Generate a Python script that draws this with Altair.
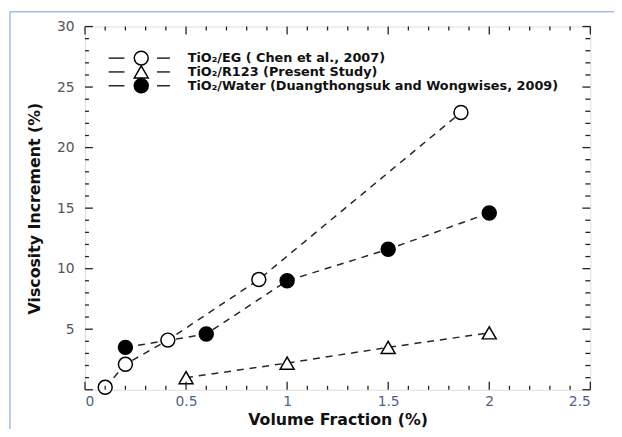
import altair as alt
import pandas as pd

# ---- data ----
series_names = [
    "TiO₂/EG ( Chen et al., 2007)",
    "TiO₂/R123 (Present Study)",
    "TiO₂/Water (Duangthongsuk and Wongwises, 2009)",
]
eg_x = [0.1, 0.2, 0.41, 0.86, 1.86]
eg_y = [0.2, 2.1, 4.1, 9.1, 22.9]
r123_x = [0.5, 1.0, 1.5, 2.0]
r123_y = [1.0, 2.2, 3.5, 4.7]
water_x = [0.2, 0.6, 1.0, 1.5, 2.0]
water_y = [3.5, 4.6, 9.0, 11.6, 14.6]

x_labels = [0, 0.5, 1, 1.5, 2, 2.5]
x_minor = [0.1, 0.2, 0.3, 0.4, 0.6, 0.7, 0.8, 0.9, 1.1, 1.2, 1.3, 1.4,
           1.6, 1.7, 1.8, 1.9, 2.1, 2.2, 2.3, 2.4]
y_labels = [5, 10, 15, 20, 25, 30]
y_major = [0, 5, 10, 15, 20, 25, 30]
y_minor = [1, 2, 3, 4, 6, 7, 8, 9, 11, 12, 13, 14, 16, 17, 18, 19,
           21, 22, 23, 24, 26, 27, 28, 29]

shape_range = ["circle", "triangle-up", "circle"]
fill_range = ["white", "white", "black"]

rows = []
for name, xs, ys in [(series_names[0], eg_x, eg_y),
                     (series_names[1], r123_x, r123_y),
                     (series_names[2], water_x, water_y)]:
    for a, b in zip(xs, ys):
        rows.append({"series": name, "x": a, "y": b})
df = pd.DataFrame(rows)

W, H = 512, 368
FONT = "DejaVu Sans"

xscale = alt.Scale(domain=[0, 2.5], nice=False)
yscale = alt.Scale(domain=[0, 30], nice=False)

X = alt.X("x:Q", scale=xscale,
          axis=alt.Axis(values=x_labels, format="~g", ticks=False, domain=False, grid=False,
                        labelFontSize=14, labelColor="#4f6386", labelFont=FONT, labelPadding=5,
                        title="Volume Fraction (%)", titleFontSize=16, titleFont=FONT,
                        titleFontWeight="bold", titleColor="#111", titlePadding=3))
Y = alt.Y("y:Q", scale=yscale,
          axis=alt.Axis(values=y_labels, ticks=False, domain=False, grid=False,
                        labelFontSize=14, labelColor="#555", labelFont=FONT, labelPadding=11,
                        title="Viscosity Increment (%)", titleFontSize=16, titleFont=FONT,
                        titleFontWeight="bold", titleColor="#111", titlePadding=14))

shape_enc = alt.Shape("series:N", scale=alt.Scale(domain=series_names, range=shape_range), legend=None)
fill_enc = alt.Fill("series:N", scale=alt.Scale(domain=series_names, range=fill_range), legend=None)

lines = alt.Chart(df).mark_line(strokeDash=[7, 6], strokeWidth=1.5, color="#262626").encode(
    x=X, y=Y, detail="series:N")
points = alt.Chart(df).mark_point(filled=True, size=200, stroke="black", strokeWidth=1.5,
                                  opacity=1).encode(x=X, y=Y, shape=shape_enc, fill=fill_enc)

one = pd.DataFrame({"a": [0]})
frame_left = alt.Chart(one).mark_rule(color="#9dbfe6", strokeWidth=1.5).encode(
    x=alt.value(-76), y=alt.value(-15), y2=alt.value(H + 60))
frame_top = alt.Chart(one).mark_rule(color="#9dbfe6", strokeWidth=1.5).encode(
    x=alt.value(-76), x2=alt.value(W + 40), y=alt.value(-15))


def xticks(vals, y0, y1):
    return alt.Chart(pd.DataFrame({"x": vals})).mark_rule(color="#222", strokeWidth=1.3).encode(
        x=alt.X("x:Q", scale=xscale), y=alt.value(y0), y2=alt.value(y1))


def yticks(vals, x0, x1):
    return alt.Chart(pd.DataFrame({"y": vals})).mark_rule(color="#222", strokeWidth=1.3).encode(
        y=alt.Y("y:Q", scale=yscale), x=alt.value(x0), x2=alt.value(x1))


ticks = [
    xticks(x_labels, H, H - 8), xticks(x_minor, H, H - 4),
    xticks(x_labels, 0, 8), xticks(x_minor, 0, 4),
    yticks(y_major, 0, 8), yticks(y_minor, 0, 4),
    yticks(y_major, W, W - 8), yticks(y_minor, W, W - 5),
]

# legend drawn as marks (rows placed at fixed pixel offsets inside the plot)
legend_rows_y = [32, 46, 60]
legend_layers = []
for i, name in enumerate(series_names):
    ld = pd.DataFrame({"series": [name]})
    py = legend_rows_y[i]
    legend_layers.append(alt.Chart(ld).mark_rule(strokeWidth=1.5, color="#262626").encode(
        y=alt.value(py), x=alt.value(24), x2=alt.value(40)))
    legend_layers.append(alt.Chart(ld).mark_rule(strokeWidth=1.5, color="#262626").encode(
        y=alt.value(py), x=alt.value(73), x2=alt.value(86)))
    legend_layers.append(alt.Chart(ld).mark_point(
        filled=True, size=200, stroke="black", strokeWidth=1.5, opacity=1,
        shape=shape_range[i], fill=fill_range[i]).encode(y=alt.value(py), x=alt.value(57)))
    legend_layers.append(alt.Chart(ld).mark_text(
        align="left", baseline="middle", fontSize=13, fontWeight="bold", font=FONT,
        color="#111").encode(y=alt.value(py), x=alt.value(104), text="series:N"))

chart = alt.layer(lines, points, *ticks, frame_left, frame_top, *legend_layers).properties(
    width=W, height=H,
    autosize=alt.AutoSizeParams(type="none"),
    padding={"left": 78, "top": 16, "right": 24, "bottom": 37},
).configure_view(stroke="black", strokeWidth=2).configure(font=FONT)

chart.save("out.html", embed_options={"renderer": "svg", "actions": False})
